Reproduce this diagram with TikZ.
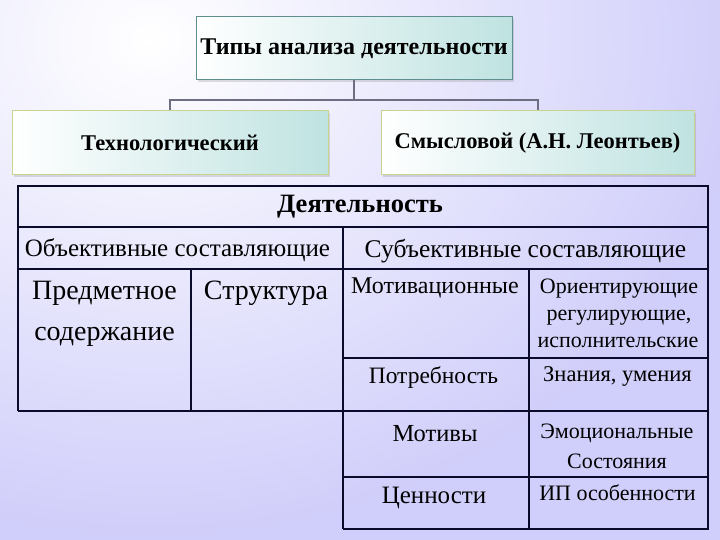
\documentclass[tikz,border=0pt]{standalone}
\usepackage{fontspec}
\setmainfont{Liberation Serif}
\usetikzlibrary{shadows}
\definecolor{bglav}{HTML}{D0CEFA}
\definecolor{boxteal}{HTML}{BFE3E1}
\definecolor{topedge}{HTML}{5E8E8E}
\definecolor{boxedge}{HTML}{C8D48C}
\definecolor{conn}{HTML}{6E6E82}
\definecolor{tabline}{HTML}{0A0A2A}
\tikzset{
  topbox/.style={draw=topedge, line width=1pt, left color=white, right color=boxteal,
    inner sep=0pt, drop shadow={shadow xshift=2pt, shadow yshift=-2pt, opacity=0.25}},
  subbox/.style={topbox, draw=boxedge},
  conline/.style={draw=conn, line width=2pt},
  thickline/.style={draw=tabline, line width=2.6pt},
  thinline/.style={draw=tabline, line width=1.3pt},
  celltext/.style={inner sep=0pt, anchor=base, text=black}
}
\newcommand{\fsz}[1]{\fontsize{#1}{#1}\selectfont}
\begin{document}
\begin{tikzpicture}[x=1pt,y=-1pt]
\useasboundingbox (0,0) rectangle (720,540);
\shade[inner color=white, outer color=bglav] (-450,-460) rectangle (750,540);

% top hierarchy
\node[topbox, minimum width=316pt, minimum height=63pt] (top) at (354,48.5)
  {\fsz{24}\bfseries Типы анализа деятельности};
\node[subbox, minimum width=316pt, minimum height=64pt] (tech) at (170,143)
  {\fsz{22.5}\bfseries Технологический};
\node[subbox, minimum width=313pt, minimum height=64pt] (sense) at (537.5,143)
  {\fsz{22.5}\bfseries Смысловой (А.Н. Леонтьев)};
\coordinate (j) at (354,100);
\draw[conline] (top.south) -- (j) -| (tech.north);
\draw[conline] (j) -| (sense.north);

% table lines
\draw[thinline] (18,227) -- (708,227);
\draw[thinline] (18,269) -- (708,269);
\draw[thinline] (343,227) -- (343,529);
\draw[thinline] (191,269) -- (191,411);
\draw[thinline] (529,269) -- (529,529);
\draw[thinline] (343,358) -- (708,358);
\draw[thinline] (18,411) -- (708,411);
\draw[thinline] (343,477) -- (708,477);
\draw[thickline, line join=miter] (18,411) -- (18,186) -- (708,186) -- (708,529) -- (343,529);

% table texts
\node[celltext, font=\fsz{26.5}\bfseries] (dey) at (360,213) {Деятельность};
\node[celltext, font=\fsz{25}] (obj) at (177.5,256) {Объективные составляющие};
\node[celltext, font=\fsz{25.5}] (subj) at (525.5,257) {Субъективные составляющие};
\node[celltext, font=\fsz{28}] (pred1) at (104.5,299) {Предметное};
\node[celltext, font=\fsz{28}] (pred2) at (104.5,340) {содержание};
\node[celltext, font=\fsz{28}] (str) at (266,299) {Структура};
\node[celltext, font=\fsz{24}] (mot) at (435,293) {Мотивационные};
\node[celltext, font=\fsz{22}] (or1) at (619,293) {Ориентирующие};
\node[celltext, font=\fsz{22}] (or2) at (619,320) {регулирующие,};
\node[celltext, font=\fsz{22}] (or3) at (618,347) {исполнительские};
\node[celltext, font=\fsz{23.5}] (potr) at (433.5,383) {Потребность};
\node[celltext, font=\fsz{22.5}] (zn) at (617.5,381) {Знания, умения};
\node[celltext, font=\fsz{24.5}] (motv) at (435,441) {Мотивы};
\node[celltext, font=\fsz{22}] (em1) at (617,438) {Эмоциональные};
\node[celltext, font=\fsz{22}] (em2) at (617,468) {Состояния};
\node[celltext, font=\fsz{25}] (cen) at (434,503) {Ценности};
\node[celltext, font=\fsz{22}] (ip) at (617.5,500) {ИП особенности};
\end{tikzpicture}
\end{document}
